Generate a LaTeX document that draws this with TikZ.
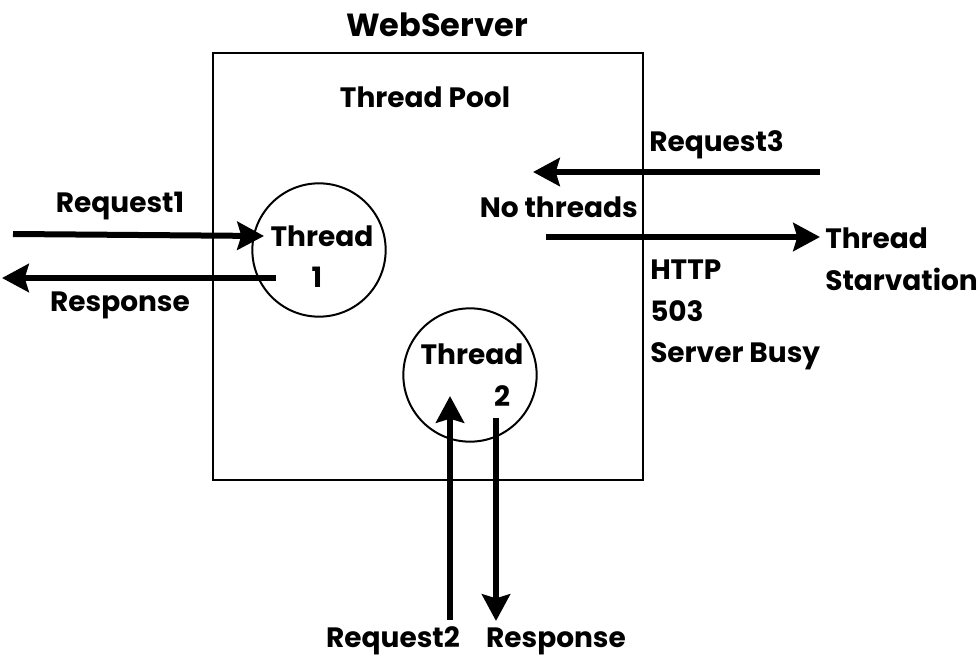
\documentclass[tikz,border=0pt]{standalone}
\usepackage{fontspec}
\setmainfont{Poppins}
\usetikzlibrary{arrows.meta}

\begin{document}
\begin{tikzpicture}[
        x=0.75pt, y=-0.75pt,
        font=\fontsize{21}{31}\selectfont\bfseries,
        >={Stealth[length=20pt, width=21pt, inset=3pt]},
        flow/.style={->, line width=4.5pt},
        thr/.style={draw, circle, line width=1.5pt, minimum size=100pt, inner sep=0pt},
        txt/.style={inner sep=0pt, align=left}
    ]
        \useasboundingbox (0,0) rectangle (980,670);
        % server box
        \node[draw, line width=1.5pt, minimum width=322.5pt, minimum height=320pt, inner sep=0pt] (pool) at (428,266.5) {};
        \node[txt, font=\fontsize{24}{28}\selectfont\bfseries] (web) at (437,25) {WebServer};
        \node[txt] (poolname) at (425,97) {Thread Pool};
        % threads
        \node[thr] (t1) at (319,250) {};
        \node[thr] (t2) at (470,375) {};
        \node[txt] at (322,236) {Thread};
        \node[txt] at (317,277) {1};
        \node[txt] at (472,354) {Thread};
        \node[txt] at (502,396) {2};
        % thread 1
        \coordinate (in1) at (13,234);
        \coordinate (in1e) at (264,236);
        \coordinate (out1) at (276,278);
        \coordinate (out1e) at (2,278);
        \draw[flow] (in1) -- (in1e);
        \draw[flow] (out1) -- (out1e);
        \node[txt] at (120,206) {Request1};
        \node[txt] at (120,305) {Response};
        % thread 2
        \coordinate (in2) at (450,620);
        \coordinate (in2e) at (450,396);
        \coordinate (out2) at (496,418);
        \coordinate (out2e) at (496,621);
        \draw[flow] (in2) -- (in2e);
        \draw[flow] (out2) -- (out2e);
        \node[txt] at (393,641) {Request2};
        \node[txt] at (556,641) {Response};
        % request 3
        \coordinate (in3) at (820,172);
        \coordinate (in3e) at (533,172);
        \coordinate (out3) at (546,237);
        \coordinate (out3e) at (820,237);
        \draw[flow] (in3) -- (in3e);
        \draw[flow] (out3) -- (out3e);
        \node[txt, anchor=west] at (649,145) {Request3};
        \node[txt, anchor=east] at (638,207) {No threads};
        \node[txt, anchor=north west] at (825,228) {Thread\\Starvation};
        \node[txt, anchor=north west] at (650,260) {HTTP\\503\\Server Busy};
    \end{tikzpicture}
\end{document}
